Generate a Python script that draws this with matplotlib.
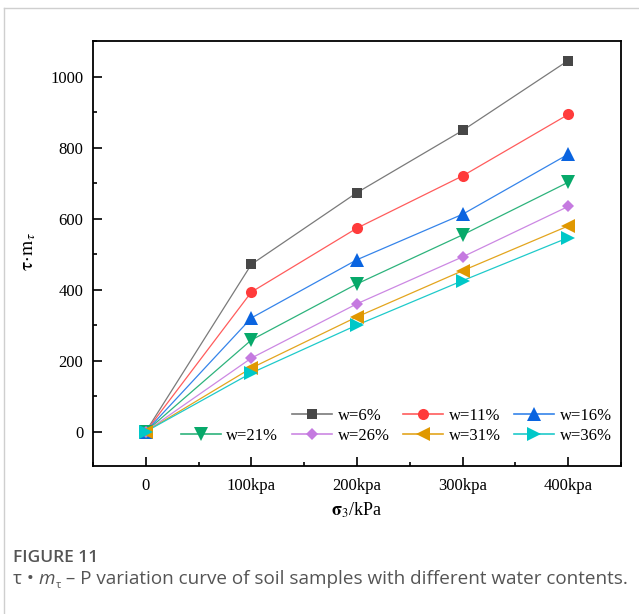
import matplotlib
matplotlib.use("Agg")
import matplotlib.pyplot as plt
from matplotlib.lines import Line2D
from matplotlib.ticker import MultipleLocator, FixedLocator

plt.rcParams["font.family"] = ["Liberation Serif", "DejaVu Serif"]
plt.rcParams["mathtext.fontset"] = "stix"

# ---------------------------------------------------------------------------
# Data
# ---------------------------------------------------------------------------
pressure = [0, 100, 200, 300, 400]
tick_labels = ["0", "100kpa", "200kpa", "300kpa", "400kpa"]

w6 = [0, 471, 673, 848, 1045]
w11 = [0, 393, 573, 720, 893]
w16 = [0, 320, 484, 612, 781]
w21 = [0, 258, 416, 554, 702]
w26 = [0, 207, 360, 492, 634]
w31 = [0, 179, 323, 453, 579]
w36 = [0, 165, 300, 425, 546]

labels = ["w=6%", "w=11%", "w=16%", "w=21%", "w=26%", "w=31%", "w=36%"]
series = [w6, w11, w16, w21, w26, w31, w36]

marker_colors = ["#474747", "#ff3b3b", "#0a64e0", "#07a96a", "#c57ae0", "#e09800", "#00c8c8"]
line_colors = ["#7a7a7a", "#ff5c5c", "#3584ea", "#2db37c", "#cc88e3", "#e3a51e", "#1fcaca"]
markers = ["s", "o", "^", "v", "D", "<", ">"]
msizes = [7, 8, 9.5, 9.5, 6.5, 9.5, 9.5]

# ---------------------------------------------------------------------------
# Figure
# ---------------------------------------------------------------------------
fig = plt.figure(figsize=(6.39, 6.14), dpi=100)
ax = fig.add_axes([93 / 639, 1 - 466 / 614, 528 / 639, 425 / 614])

handles = []
for ys, lab, mc, lc, mk, ms in zip(series, labels, marker_colors, line_colors, markers, msizes):
    ax.plot(pressure, ys, color=lc, lw=0.9, zorder=2)
    ax.plot(pressure, ys, linestyle="none", marker=mk, ms=ms, color=mc, mec=mc, mew=0, zorder=3)
    handles.append(Line2D([], [], color=lc, lw=1.2, marker=mk, ms=ms, mfc=mc, mec=mc, mew=0))

ax.set_xlim(-50, 450)
ax.set_ylim(-97, 1100)
ax.xaxis.set_major_locator(FixedLocator(pressure))
ax.set_xticklabels(tick_labels)
ax.xaxis.set_minor_locator(MultipleLocator(50))
ax.yaxis.set_major_locator(MultipleLocator(200))
ax.yaxis.set_minor_locator(MultipleLocator(100))

ax.tick_params(which="both", direction="in", top=False, right=False, width=1.2)
ax.tick_params(which="major", length=6.5, labelsize=12, pad=9)
ax.tick_params(which="minor", length=3)
ax.tick_params(axis="y", pad=7)
for sp in ax.spines.values():
    sp.set_linewidth(1.3)

ax.set_xlabel(r"$\mathbf{\sigma}_3$/kPa", fontsize=13)
ax.xaxis.set_label_coords(0.5, -0.082)
ax.set_ylabel(r"$\mathrm{\tau}\!\cdot\!\mathrm{m}_\tau$", fontsize=14)
ax.yaxis.set_label_coords(-0.105, 0.505)

# legend: first row right-aligned with 3 entries, second row 4 entries
blank = Line2D([], [], linestyle="none")
order = [blank, handles[3], handles[0], handles[4], handles[1], handles[5], handles[2], handles[6]]
order_labels = ["", labels[3], labels[0], labels[4], labels[1], labels[5], labels[2], labels[6]]
ax.legend(order, order_labels, ncol=4, loc="lower right", bbox_to_anchor=(1.005, 0.025),
          frameon=False, fontsize=12, handlelength=2.4, handletextpad=0.35,
          columnspacing=0.8, labelspacing=0.25, borderpad=0.2)

# card border and caption
fig.add_artist(Line2D([4 / 639, 4 / 639], [0, 1 - 8 / 614], color="#cfcfcf", lw=1))
fig.add_artist(Line2D([4 / 639, 1], [1 - 8 / 614, 1 - 8 / 614], color="#cfcfcf", lw=1))
fig.text(13 / 639, 1 - 562 / 614, "FIGURE 11", family="Open Sans", fontsize=12.5,
         color="#555555", fontweight="semibold", va="baseline")

renderer = fig.canvas.get_renderer()
cap_y = 1 - 584 / 614
pieces = [
    ("τ • ", dict(fontsize=13.6), 0),
    ("m", dict(fontsize=13.6, fontstyle="italic"), 0),
    ("τ", dict(fontsize=8), -4),
    (" – P variation curve of soil samples with different water contents.", dict(fontsize=13.6), 0),
]
x = 13 / 639
for txt, kw, dy in pieces:
    t = fig.text(x, cap_y + dy / 614, txt, family="Open Sans", color="#555555", va="baseline", **kw)
    x = t.get_window_extent(renderer).x1 / fig.bbox.width

fig.savefig("out.png", dpi=100)
